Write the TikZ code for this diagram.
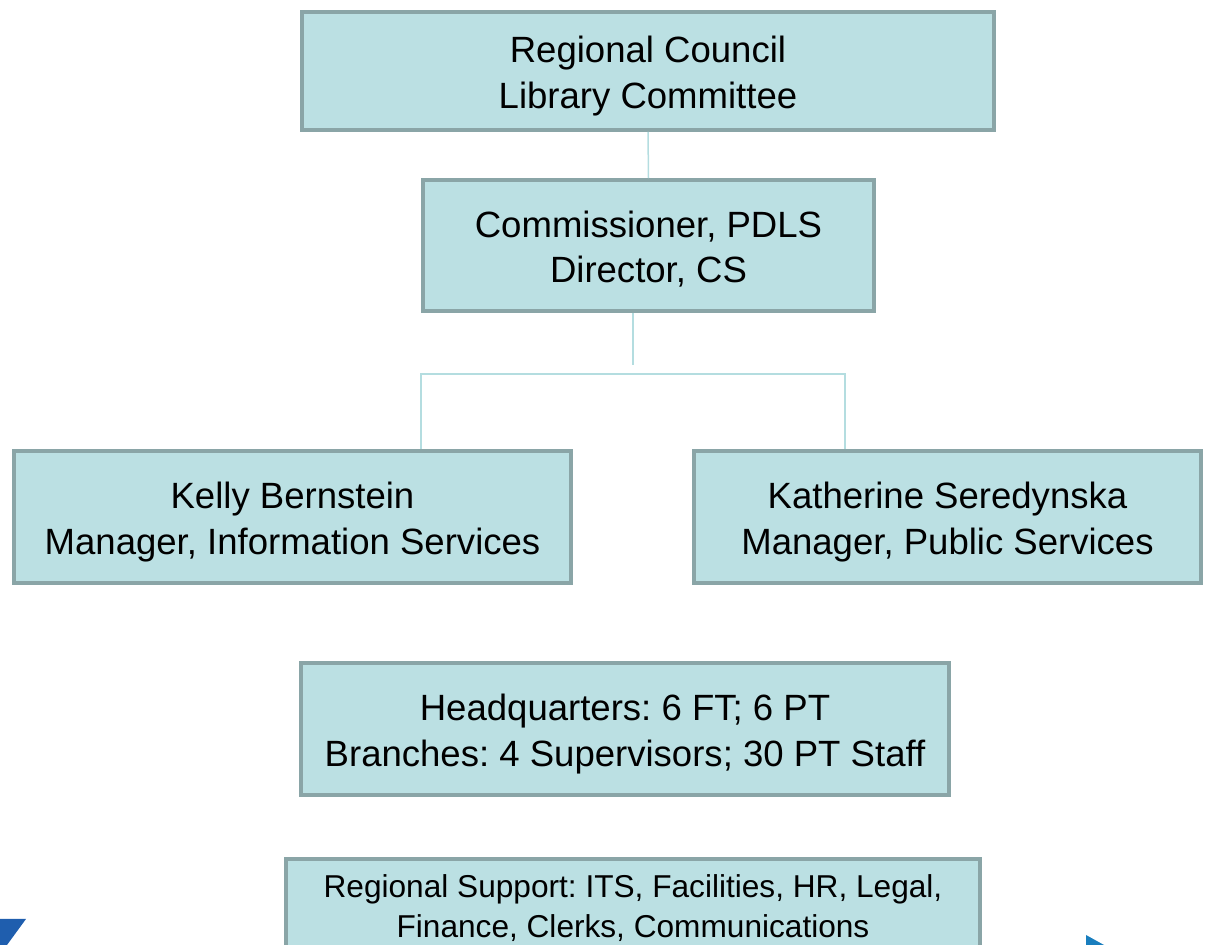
\documentclass[tikz,border=0pt]{standalone}
\usepackage{fontspec}
\setmainfont{Liberation Sans}
\usepackage{xcolor}
\definecolor{boxfill}{HTML}{BBE0E3}
\definecolor{boxline}{HTML}{8AA5A7}
\definecolor{linkline}{HTML}{B4DDE0}
\definecolor{cornerblue}{HTML}{1F5EAE}
\frenchspacing

\begin{document}
\begin{tikzpicture}[x=0.02cm,y=-0.02cm,
  post/.style={draw=boxline,fill=boxfill,line width=0.08cm,inner sep=0,align=center,
    font=\fontsize{20.8}{26}\selectfont,text height=44.6pt,text depth=2pt},
  small post/.style={post,font=\fontsize{18}{22.7}\selectfont,text height=37.6pt,text depth=2pt},
  link/.style={draw=linkline,line width=0.03cm}]
\useasboundingbox (0,0) rectangle (1205,945);
\clip (0,0) rectangle (1205,945);
\node[post,minimum width=13.84cm,minimum height=2.36cm] (council) at (648,71) {Regional Council\\Library Committee};
\node[post,minimum width=9.02cm,minimum height=2.62cm] (commissioner) at (648.5,245.5) {Commissioner, PDLS\\Director, CS};
\node[post,minimum width=11.14cm,minimum height=2.64cm] (kelly) at (292.5,517) {Kelly Bernstein\\Manager, Information Services};
\node[post,minimum width=10.14cm,minimum height=2.64cm] (katherine) at (947.5,517) {Katherine Seredynska\\Manager, Public Services};
\node[post,minimum width=12.96cm,minimum height=2.64cm] (staff) at (625,729) {Headquarters: 6 FT; 6 PT\\Branches: 4 Supervisors; 30 PT Staff};
\node[small post,minimum width=13.88cm,minimum height=1.88cm] (support) at (633,906) {Regional Support: ITS, Facilities, HR, Legal,\\Finance, Clerks, Communications};
% connectors
\coordinate (drop) at (633,365);
\coordinate (forkL) at (421,374);
\coordinate (forkR) at (845,374);
\draw[link] (council.south) -- (commissioner.north);
\draw[link] (commissioner.south -| drop) -- (drop);
\draw[link] (kelly.north -| forkL) -- (forkL) -- (forkR) -- (katherine.north -| forkR);
% corner marks
\fill[cornerblue] (0,919) -- (26,919) -- (7,945) -- (0,945) -- cycle;
\fill[cornerblue!80!cyan] (1086,935) -- (1104,945) -- (1086,945) -- cycle;
\end{tikzpicture}
\end{document}
